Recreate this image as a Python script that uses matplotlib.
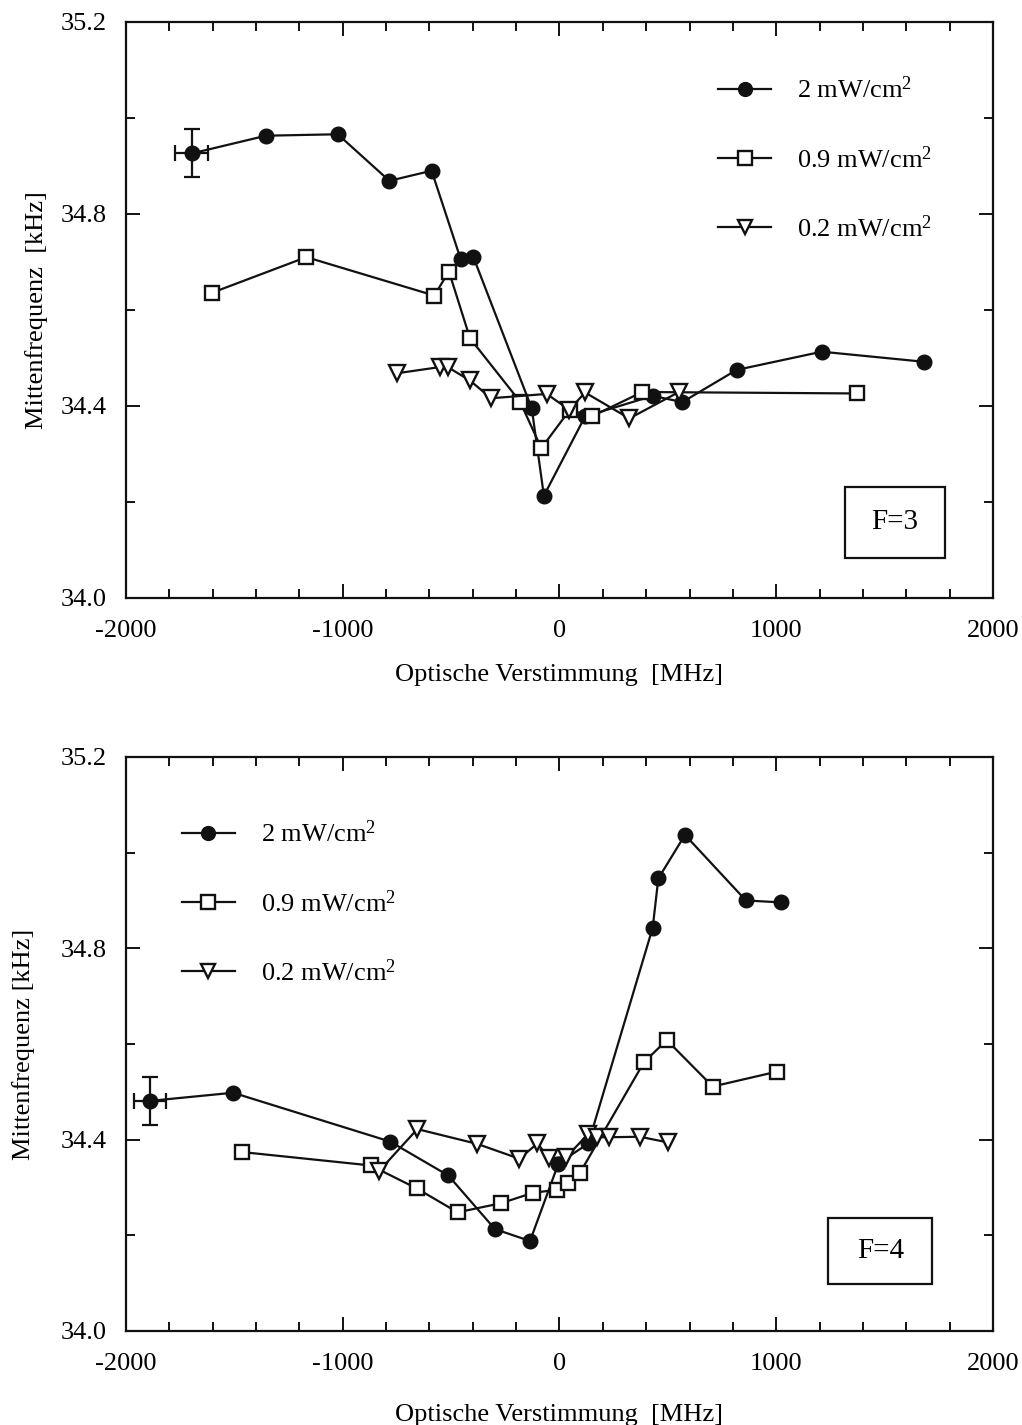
import numpy as np
import matplotlib
matplotlib.use("Agg")
import matplotlib.pyplot as plt
from matplotlib.patches import Rectangle

plt.rcParams['font.family'] = ['Liberation Serif', 'DejaVu Serif']
plt.rcParams['mathtext.fontset'] = 'custom'
plt.rcParams['mathtext.rm'] = 'Liberation Serif'
plt.rcParams['mathtext.it'] = 'Liberation Serif:italic'
plt.rcParams['axes.unicode_minus'] = False

# ---- Daten F=3 (oben) ----
f3_2mw_x = [-1697, -1354, -1023, -785, -590, -456, -398, -128, -72, 118, 430, 567, 817, 1210, 1682]
f3_2mw_y = [34.926, 34.963, 34.966, 34.869, 34.890, 34.706, 34.711, 34.395, 34.213, 34.378,
            34.421, 34.408, 34.475, 34.513, 34.492]
f3_09mw_x = [-1602, -1168, -578, -510, -413, -182, -84, 48, 148, 382, 1371]
f3_09mw_y = [34.636, 34.710, 34.630, 34.680, 34.541, 34.409, 34.312, 34.392, 34.378, 34.429, 34.426]
f3_02mw_x = [-751, -551, -516, -413, -316, -59, 45, 118, 322, 551]
f3_02mw_y = [34.468, 34.481, 34.481, 34.453, 34.416, 34.425, 34.392, 34.428, 34.374, 34.429]

# ---- Daten F=4 (unten) ----
f4_2mw_x = [-1889, -1506, -782, -513, -298, -136, -5, 133, 430, 456, 579, 860, 1020]
f4_2mw_y = [34.481, 34.498, 34.396, 34.325, 34.213, 34.188, 34.350, 34.392, 34.843, 34.946,
            35.037, 34.900, 34.896]
f4_09mw_x = [-1465, -871, -659, -470, -270, -121, -13, 41, 95, 390, 495, 707, 1002]
f4_09mw_y = [34.374, 34.346, 34.298, 34.248, 34.267, 34.289, 34.295, 34.309, 34.331, 34.562,
             34.608, 34.511, 34.542]
f4_02mw_x = [-831, -656, -379, -185, -102, -47, 30, 133, 175, 230, 371, 502]
f4_02mw_y = [34.335, 34.422, 34.391, 34.360, 34.392, 34.361, 34.363, 34.412, 34.405, 34.405,
             34.406, 34.394]

# Fehlerbalken (jeweils erster Punkt der 2 mW Kurve)
xerr_f3, yerr_f3 = 75, 0.05
xerr_f4, yerr_f4 = 75, 0.05

labels = [r'2 mW/cm$^{2}$', r'0.9 mW/cm$^{2}$', r'0.2 mW/cm$^{2}$']
fs = 19


def draw_panel(ax, d2x, d2y, d09x, d09y, d02x, d02y, xe, ye, box_txt, box_pos, leg_anchor, ylpad, xlpad):
    lw = 1.6
    ax.plot(d2x, d2y, color='#111111', lw=lw, marker='o', ms=10.5, mfc='#111111', mec='#111111',
            label=labels[0], zorder=3)
    ax.plot(d09x, d09y, color='#111111', lw=lw, marker='s', ms=10, mfc='white', mec='#111111',
            mew=1.7, label=labels[1], zorder=4)
    ax.plot(d02x, d02y, color='#111111', lw=lw, marker='v', ms=11, mfc='white', mec='#111111',
            mew=1.7, label=labels[2], zorder=4)
    ax.errorbar(d2x[0], d2y[0], xerr=xe, yerr=ye, fmt='none', ecolor='#111111', elinewidth=1.6,
                capsize=6, capthick=1.6, zorder=2)

    ax.set_xlim(-2000, 2000)
    ax.set_ylim(34.0, 35.2)
    ax.set_xticks([-2000, -1000, 0, 1000, 2000])
    ax.set_xticks(np.arange(-2000, 2001, 200), minor=True)
    ax.set_yticks([34.0, 34.4, 34.8, 35.2])
    ax.set_yticks([34.2, 34.6, 35.0], minor=True)
    ax.set_yticklabels(['34.0', '34.4', '34.8', '35.2'])
    ax.tick_params(which='both', direction='in', top=True, right=True, labelsize=fs, width=1.4,
                   color='#111111')
    ax.tick_params(which='major', length=10)
    ax.tick_params(which='minor', length=6.5)
    ax.tick_params(axis='x', pad=16)
    ax.tick_params(axis='y', pad=14)
    for s in ax.spines.values():
        s.set_linewidth(1.6)
        s.set_color('#111111')

    ax.set_xlabel('Optische Verstimmung  [MHz]', fontsize=fs, labelpad=xlpad)
    ax.set_ylabel('Mittenfrequenz  [kHz]', fontsize=fs, labelpad=ylpad)

    ax.legend(loc='upper left', bbox_to_anchor=leg_anchor, frameon=False, fontsize=fs,
              handlelength=2.0, handletextpad=1.0, labelspacing=1.62, borderpad=0,
              borderaxespad=0, markerscale=0.95)

    x0, y0, x1, y1 = box_pos
    ax.add_patch(Rectangle((x0, y0), x1 - x0, y1 - y0, transform=ax.transAxes, fill=False,
                           lw=1.6, edgecolor='#111111', zorder=5))
    ax.text((x0 + x1) / 2, (y0 + y1) / 2, box_txt, transform=ax.transAxes, ha='center',
            va='center', fontsize=fs + 2)


fig = plt.figure(figsize=(10.22, 14.25), dpi=100)
ax1 = fig.add_axes([0.1233, 0.5804, 0.8483, 0.4042])
ax2 = fig.add_axes([0.1233, 0.0660, 0.8483, 0.4028])

draw_panel(ax1, f3_2mw_x, f3_2mw_y, f3_09mw_x, f3_09mw_y, f3_02mw_x, f3_02mw_y,
           xerr_f3, yerr_f3, 'F=3', (0.829, 0.069, 0.945, 0.193), (0.683, 0.905), 9, 16)
draw_panel(ax2, f4_2mw_x, f4_2mw_y, f4_09mw_x, f4_09mw_y, f4_02mw_x, f4_02mw_y,
           xerr_f4, yerr_f4, 'F=4', (0.810, 0.082, 0.930, 0.197), (0.0646, 0.889), 18, 21)
ax2.set_ylabel('Mittenfrequenz [kHz]', fontsize=fs, labelpad=18)

fig.savefig('out.png', dpi=100)
